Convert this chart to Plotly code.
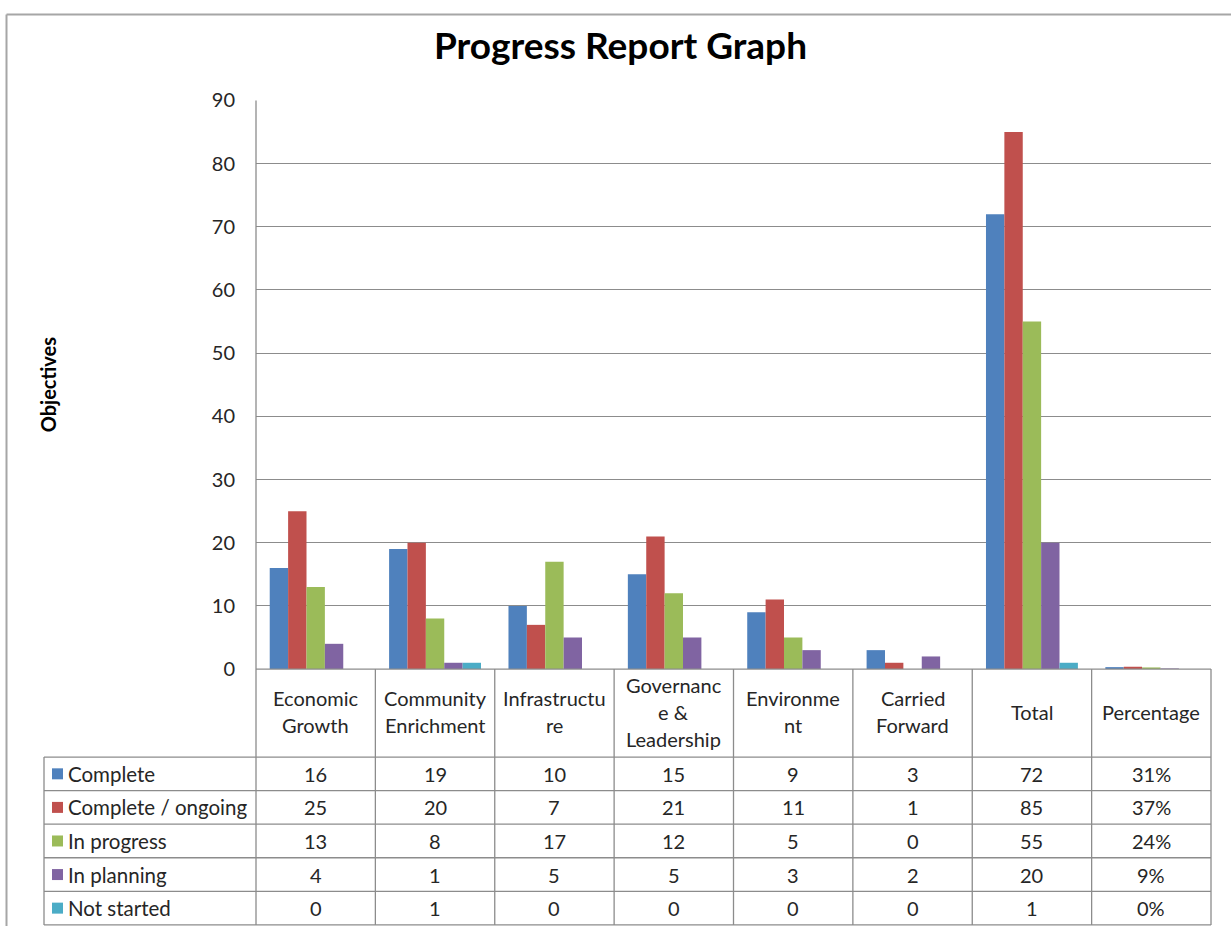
import plotly.graph_objects as go

# Categories (header text split over lines as set in the data table)
header_lines = [
    ["Economic", "Growth"],
    ["Community", "Enrichment"],
    ["Infrastructu", "re"],
    ["Governanc", "e &", "Leadership"],
    ["Environme", "nt"],
    ["Carried", "Forward"],
    ["Total"],
    ["Percentage"],
]
categories = ["".join(l) if i in (2, 4) else " ".join(l) for i, l in enumerate(header_lines)]

series_names = ["Complete", "Complete / ongoing", "In progress", "In planning", "Not started"]
series_colors = ["#4F81BD", "#C0504D", "#9BBB59", "#8064A2", "#4BACC6"]

# Counts per category (first seven columns)
complete = [16, 19, 10, 15, 9, 3, 72]
complete_ongoing = [25, 20, 7, 21, 11, 1, 85]
in_progress = [13, 8, 17, 12, 5, 0, 55]
in_planning = [4, 1, 5, 5, 3, 2, 20]
not_started = [0, 1, 0, 0, 0, 0, 1]

# Share of the total for each status (last column)
percentage = [0.31, 0.37, 0.24, 0.09, 0.00]

counts = [complete, complete_ongoing, in_progress, in_planning, not_started]

W, H = 1231, 937
FONT = "Lato"
TXT = "#262626"
LINE = "#8c8c8c"
FS = 20

# Vertical placement on the displayed page: the figure shows up
# Y_OFF px down and squeezed to Y_SCALE of its height.
Y_OFF, Y_SCALE = 11.5, 0.975

# Layout geometry in displayed pixels
plot_l, plot_r = 256, 1211
plot_t, plot_b = 99, 668
header_b = 756
row_h = 33.6
table_l = 44
frame_top = Y_OFF + 1.5
frame_bottom = Y_OFF + Y_SCALE * H


def px(x):
    return x / W


def py(y):
    return 1 - ((y - Y_OFF) / Y_SCALE) / H


fig = go.Figure()

for k, name in enumerate(series_names):
    values = counts[k] + [percentage[k]]
    fig.add_trace(go.Bar(
        x=categories, y=values, name=name,
        marker=dict(color=series_colors[k], line=dict(width=0)),
        showlegend=False,
    ))

shapes = []
annotations = []


def hline(y, x0, x1, color=LINE, width=1.3):
    shapes.append(dict(type="line", xref="paper", yref="paper",
                       x0=px(x0), x1=px(x1), y0=py(y), y1=py(y),
                       line=dict(color=color, width=width)))


def vline(x, y0, y1, color=LINE, width=1.3):
    shapes.append(dict(type="line", xref="paper", yref="paper",
                       x0=px(x), x1=px(x), y0=py(y0), y1=py(y1),
                       line=dict(color=color, width=width)))


# Outer chart frame (left and top edges)
vline(6.5, frame_top, frame_bottom, color="#a6a6a6", width=2)
hline(frame_top, 6.5, W, color="#a6a6a6", width=2)

# Data table grid
ncols = len(categories)
col_w = (plot_r - plot_l) / ncols
table_b = header_b + row_h * len(series_names)

hline(plot_b, plot_l, plot_r)
for r in range(len(series_names) + 1):
    hline(header_b + r * row_h, table_l, plot_r)
vline(table_l, header_b, table_b)
vline(plot_l, plot_t, table_b)
for c in range(1, ncols + 1):
    vline(plot_l + c * col_w, plot_b, table_b)

# Header text
line_gap = 27
header_mid = (plot_b + header_b) / 2 - 1.5
for c, lines in enumerate(header_lines):
    cx = plot_l + (c + 0.5) * col_w
    n = len(lines)
    for j, t in enumerate(lines):
        y = header_mid + (j - (n - 1) / 2) * line_gap
        annotations.append(dict(x=px(cx), y=py(y), xref="paper", yref="paper",
                                text=t, showarrow=False, xanchor="center", yanchor="middle",
                                font=dict(family=FONT, size=FS, color=TXT)))

# Row labels with colour keys, then cell values
for r, name in enumerate(series_names):
    cy = header_b + (r + 0.5) * row_h
    shapes.append(dict(type="rect", xref="paper", yref="paper",
                       x0=px(52), x1=px(63), y0=py(cy - 5.5), y1=py(cy + 5.5),
                       fillcolor=series_colors[r], line=dict(width=0)))
    annotations.append(dict(x=px(66), y=py(cy), xref="paper", yref="paper",
                            text=name, showarrow=False, xanchor="left", yanchor="middle",
                            font=dict(family=FONT, size=FS + 0.5, color=TXT)))
    cells = [str(v) for v in counts[r]] + [f"{percentage[r]:.0%}"]
    for c, t in enumerate(cells):
        cx = plot_l + (c + 0.5) * col_w
        annotations.append(dict(x=px(cx), y=py(cy), xref="paper", yref="paper",
                                text=t, showarrow=False, xanchor="center", yanchor="middle",
                                font=dict(family=FONT, size=FS, color=TXT)))

# Title and axis title
annotations.append(dict(x=px(620), y=py(43), xref="paper", yref="paper",
                        text="<b>Progress Report Graph</b>", showarrow=False,
                        xanchor="center", yanchor="middle",
                        font=dict(family=FONT, size=37, color="#000000")))
annotations.append(dict(x=px(48), y=py(383), xref="paper", yref="paper",
                        text="<b>Objectives</b>", showarrow=False, textangle=-90,
                        xanchor="center", yanchor="middle",
                        font=dict(family=FONT, size=FS, color="#000000")))

fig.update_layout(
    width=W, height=H,
    margin=dict(l=0, r=0, t=0, b=0),
    paper_bgcolor="white", plot_bgcolor="white",
    barmode="group", bargap=0.23, bargroupgap=0,
    shapes=shapes, annotations=annotations,
    xaxis=dict(domain=[px(plot_l), px(plot_r)], showticklabels=False,
               showgrid=False, zeroline=False, showline=False, ticks="",
               range=[-0.5, ncols - 0.5]),
    yaxis=dict(domain=[py(plot_b), py(plot_t)], range=[0, 90], dtick=10,
               showgrid=True, gridcolor=LINE, gridwidth=1.3,
               zeroline=False, showline=False, ticks="",
               ticklabelstandoff=20,
               tickfont=dict(family=FONT, size=FS, color=TXT)),
)

fig.write_html("out.html")
